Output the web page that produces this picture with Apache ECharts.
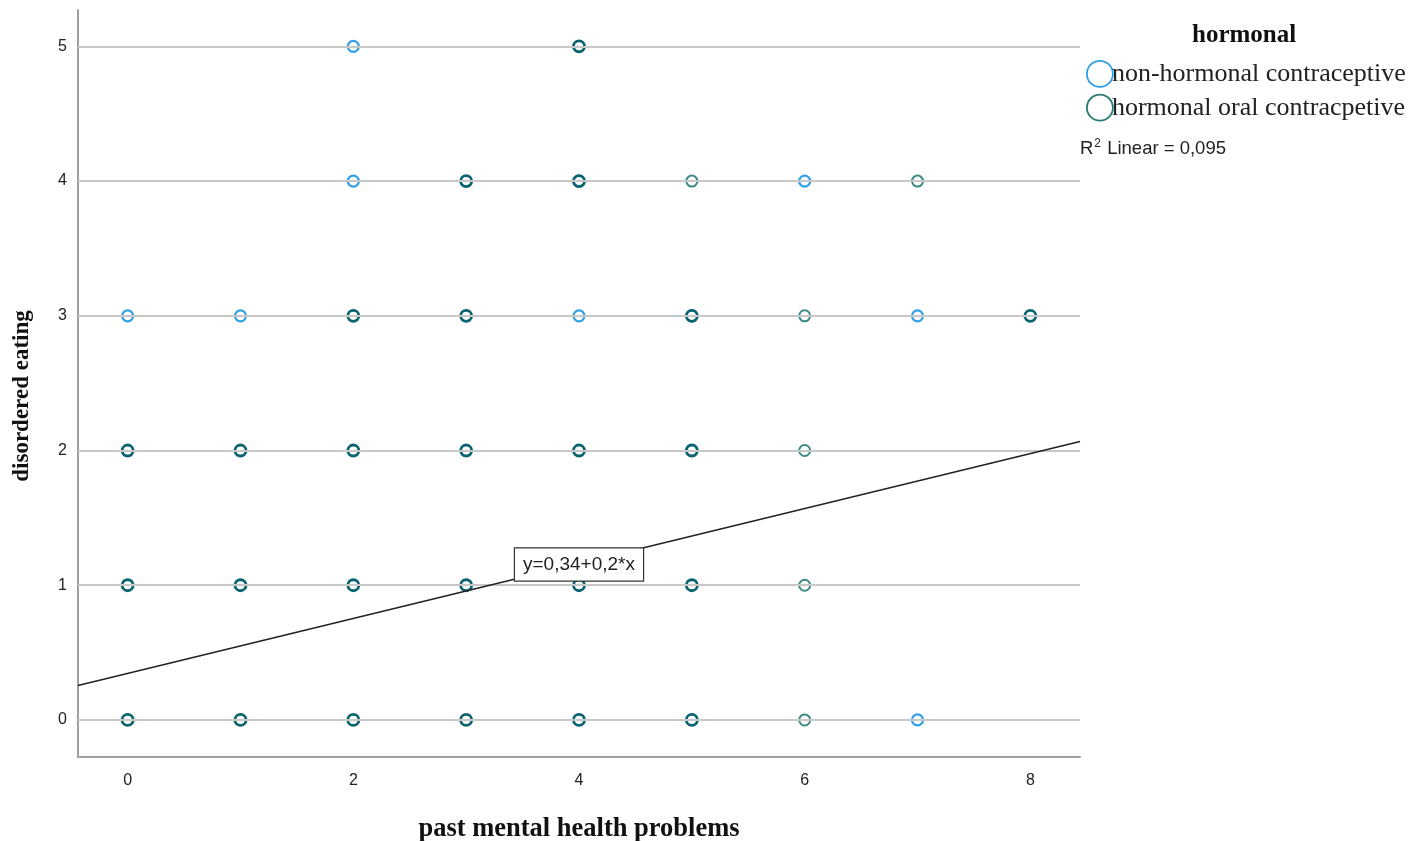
<!DOCTYPE html>
<html>
<head>
<meta charset="utf-8">
<script src="https://cdn.jsdelivr.net/npm/echarts@6/dist/echarts.min.js"></script>
<style>html,body{margin:0;padding:0;background:#fff;overflow:hidden}#c{position:absolute;left:0;top:0;width:1420px;height:841px}</style>
</head>
<body>
<div id="c"></div>
<script>
// ---- data ----
const xTicks = [0, 2, 4, 6, 8];
const yTicks = [0, 1, 2, 3, 4, 5];
// non-hormonal contraceptive: [x, y]
const nonHormonal = [
  [2,5],[2,4],[4,4],[6,4],
  [0,3],[1,3],[4,3],[5,3],[7,3],
  [5,2],[7,0]
];
// hormonal oral contraceptive: [x, y, estimated number of overlapping cases]
const hormonal = [
  [4,5,3],
  [3,4,2],[4,4,3],[5,4,1],[7,4,1],
  [2,3,3],[3,3,3],[5,3,3],[6,3,1],[8,3,2],
  [0,2,4],[1,2,4],[2,2,5],[3,2,4],[4,2,4],[5,2,3],[6,2,1],
  [0,1,4],[1,1,4],[2,1,5],[3,1,4],[4,1,3],[5,1,3],[6,1,1],
  [0,0,5],[1,0,5],[2,0,5],[3,0,4],[4,0,4],[5,0,3],[6,0,1]
];
const fitIntercept = 0.345;
const fitSlope = 0.204;
const fitLabel = 'y=0,34+0,2*x';
const r2Text = '0,095';

const xMin = -0.44, xMax = 8.44, yMin = -0.275, yMax = 5.27;

const chart = echarts.init(document.getElementById('c'), null, {renderer: 'canvas'});
const blue = '#2f9fe8';
const tealLight = '#3a8984';
const tealDark = '#0a6470';

const hormonalData = hormonal.map(p => ({
  value: [p[0], p[1]],
  itemStyle: { borderColor: p[2] > 1 ? tealDark : tealLight, borderWidth: p[2] > 1 ? 2.8 : 2 }
}));

chart.setOption({
  animation: false,
  backgroundColor: '#fff',
  grid: { left: 78, width: 1002, top: 10, height: 747, containLabel: false, outerBoundsMode: 'none' },
  title: {
    text: 'hormonal', left: 1187, top: 18,
    textStyle: { fontFamily: 'Liberation Serif', fontWeight: 'bold', fontSize: 25, color: '#111' }
  },
  legend: {
    orient: 'vertical', left: 1081, top: 55, itemWidth: 26, itemHeight: 26, itemGap: 6,
    textStyle: { fontFamily: 'Liberation Serif', fontSize: 26, color: '#222', padding: [0,0,0,-6] },
    data: [
      { name: 'non-hormonal contraceptive', icon: 'circle', itemStyle: { color: 'rgba(0,0,0,0)', borderColor: blue, borderWidth: 1.8, opacity: 1 } },
      { name: 'hormonal oral contracpetive', icon: 'circle', itemStyle: { color: 'rgba(0,0,0,0)', borderColor: '#2b7a76', borderWidth: 1.8, opacity: 1 } }
    ]
  },
  graphic: [
    {
      type: 'text', left: 1080, top: 138,
      style: {
        text: '{n|R}{s|2}{n| Linear = ' + r2Text + '}',
        rich: {
          n: { fontFamily: 'Liberation Sans', fontSize: 18.5, fill: '#222', verticalAlign: 'bottom' },
          s: { fontFamily: 'Liberation Sans', fontSize: 12, fill: '#222', verticalAlign: 'top', padding: [0,1,8,1] }
        }
      }
    },
    {
      type: 'text', x: 22, y: 396, rotation: Math.PI / 2,
      style: {
        text: 'disordered eating', align: 'center', verticalAlign: 'middle',
        fontFamily: 'Liberation Serif', fontWeight: 'bold', fontSize: 23, fill: '#111'
      }
    }
  ],
  xAxis: {
    type: 'value', min: xMin, max: xMax,
    name: 'past mental health problems', nameLocation: 'middle', nameGap: 59,
    nameTextStyle: { fontFamily: 'Liberation Serif', fontWeight: 'bold', fontSize: 26.5, color: '#111' },
    axisLine: { show: true, onZero: false, lineStyle: { color: '#a0a0a0', width: 2 } },
    axisTick: { show: false },
    splitLine: { show: false },
    axisLabel: { customValues: xTicks, margin: 16, fontFamily: 'Liberation Sans', fontSize: 16, color: '#222' }
  },
  yAxis: {
    type: 'value', min: yMin, max: yMax,
    axisLine: { show: true, onZero: false, lineStyle: { color: '#a0a0a0', width: 2 } },
    axisTick: { show: false },
    splitLine: { show: false },
    axisLabel: { customValues: yTicks, margin: 11, fontFamily: 'Liberation Sans', fontSize: 16, color: '#222' }
  },
  series: [
    {
      name: 'grid', type: 'line', data: [], silent: true,
      markLine: {
        silent: true, symbol: 'none', label: { show: false },
        lineStyle: { color: '#c8c8c8', width: 2, type: 'solid' },
        data: yTicks.map(v => ({ yAxis: v }))
      },
      z: 1
    },
    {
      name: 'non-hormonal contraceptive', type: 'scatter', symbol: 'circle', symbolSize: 11,
      itemStyle: { color: 'rgba(0,0,0,0)', borderColor: blue, borderWidth: 2.2, opacity: 1 },
      data: nonHormonal, z: 3
    },
    {
      name: 'hormonal oral contracpetive', type: 'scatter', symbol: 'circle', symbolSize: 11,
      itemStyle: { color: 'rgba(0,0,0,0)', borderColor: tealLight, borderWidth: 2.2, opacity: 1 },
      data: hormonalData, z: 4
    },
    {
      name: 'fit', type: 'line', symbol: 'none', silent: true,
      lineStyle: { color: '#222', width: 1.5 },
      data: [[xMin, fitIntercept + fitSlope * xMin], [xMax, fitIntercept + fitSlope * xMax]],
      z: 5
    },
    {
      name: 'fitlabel', type: 'scatter', symbolSize: 1, silent: true,
      itemStyle: { opacity: 1, color: 'rgba(0,0,0,0)' },
      data: [[4, fitIntercept + fitSlope * 4]],
      label: {
        show: true, position: 'inside', formatter: fitLabel,
        fontFamily: 'Liberation Sans', fontSize: 19, color: '#222',
        backgroundColor: '#ffffff', borderColor: '#333', borderWidth: 1.2,
        padding: [7, 8, 6, 8], offset: [0, 1]
      },
      z: 10
    }
  ]
});
</script>
</body>
</html>
